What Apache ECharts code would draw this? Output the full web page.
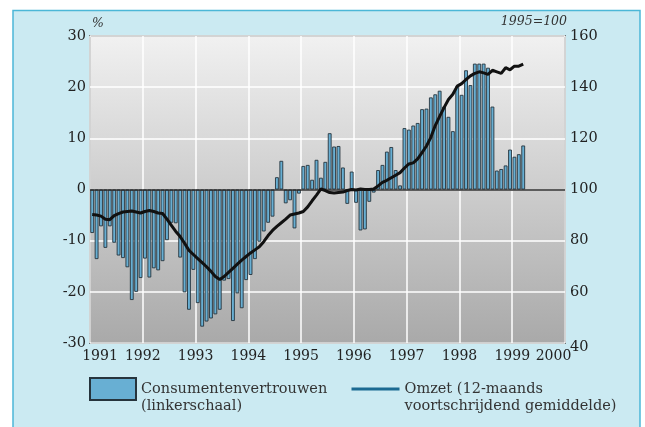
<!DOCTYPE html>
<html>
<head>
<meta charset="utf-8">
<script src="https://cdn.jsdelivr.net/npm/echarts@6/dist/echarts.min.js"></script>
<style>
  html, body { margin: 0; padding: 0; background: #fff; }
  #main { width: 645px; height: 427px; }
</style>
</head>
<body>
<div id="main"></div>
<script>
// Consumentenvertrouwen, % (linkerschaal), monthly Jan 1991 - Mar 1999
const vertrouwen = [
  -8.5, -13.6, -7.2, -11.4, -7.2, -10.4, -12.9, -13.4, -15.2, -21.6, -20, -17.3,
  -13.5, -17.2, -15.4, -15.8, -14, -9.9, -6.5, -6.6, -13.3, -20.1, -23.5, -15.7,
  -22.2, -26.8, -25.8, -25.2, -24.4, -23.5, -17.8, -17.5, -25.7, -20.3, -23.2, -17.7,
  -16.7, -13.6, -10.2, -8.2, -6.5, -5.3, 2.4, 5.6, -2.7, -2.1, -7.6, -0.8,
  4.6, 4.8, 1.9, 5.8, 2.3, 5.4, 11, 8.4, 8.5, 4.3, -2.8, 3.5,
  -2.6, -8, -7.8, -2.4, -0.6, 3.8, 4.8, 7.4, 8.3, 3.8, 0.8, 12,
  11.7, 12.5, 13, 15.7, 15.8, 18, 18.6, 19.3, 16.2, 14.2, 11.4, 20.2,
  18.5, 23.3, 20.4, 24.6, 24.6, 24.6, 23.8, 16.2, 3.7, 4, 4.7, 7.8,
  6.4, 6.9, 8.6
];

// Omzet, 12-maands voortschrijdend gemiddelde (1995=100, rechterschaal)
const omzet = [
  90.2, 90.0, 89.6, 88.4, 88.2, 89.8, 90.6, 91.2, 91.4, 91.6, 91.2, 90.8,
  91.4, 91.8, 91.4, 90.8, 90.6, 88.4, 86.0, 83.6, 81.6, 79.0, 76.2, 74.6,
  73.0, 71.4, 69.8, 68.0, 66.0, 64.8, 66.0, 67.6, 69.2, 70.8, 72.4, 73.8,
  75.2, 76.4, 77.6, 79.6, 82.0, 84.0, 85.6, 87.0, 88.4, 90.0, 90.4, 90.8,
  91.4, 93.2, 95.6, 97.8, 100.2, 99.6, 98.8, 98.6, 98.8, 99.0, 99.6, 100.0,
  99.8, 100.2, 100.0, 100.0, 100.2, 101.4, 102.8, 103.6, 104.6, 105.6, 106.6, 108.4,
  110.0, 110.4, 112.0, 114.4, 117.0, 120.4, 125.0, 128.6, 132.0, 135.2, 137.2, 140.4,
  141.4, 143.0, 144.4, 145.4, 146.0, 145.6, 145.0, 146.6, 146.0, 145.4, 147.6, 146.8,
  148.2, 148.2, 149.0
];

const startYear = 1991;
const endYear = 2000;
const barName = 'Consumentenvertrouwen\n(linkerschaal)';
const lineName = 'Omzet (12-maands\nvoortschrijdend gemiddelde)';

// month i sits in the middle of its month on a fractional-year axis
const monthPos = (i) => startYear + (i + 0.5) / 12;
const barData = vertrouwen.map((v, i) => [monthPos(i), v]);
const lineData = omzet.map((v, i) => [monthPos(i), v]);

const serif = 'DejaVu Serif';
const chart = echarts.init(document.getElementById('main'));

// blank first line so the first text line sits level with the legend icon
const legendText = {
  fontFamily: serif,
  fontSize: 14.5,
  color: '#333',
  lineHeight: 17
};

chart.setOption({
  animation: false,
  textStyle: { fontFamily: serif },
  graphic: {
    elements: [
      {
        type: 'rect',
        z: -100,
        shape: { x: 13, y: 10.5, width: 627, height: 430 },
        style: { fill: '#cbeaf2', stroke: '#4cb7d7', lineWidth: 1.5 }
      }
    ]
  },
  grid: {
    left: 90,
    right: 80,
    top: 36,
    bottom: 84,
    show: true,
    borderColor: '#222',
    borderWidth: 1.5,
    backgroundColor: new echarts.graphic.LinearGradient(0, 0, 0, 1, [
      { offset: 0, color: '#f1f1f1' },
      { offset: 1, color: '#a9a9a9' }
    ])
  },
  legend: [
    {
      data: [{ name: barName, icon: 'rect' }],
      left: 89,
      top: 363.5,
      padding: 0,
      itemWidth: 46,
      itemHeight: 22,
      itemGap: 0,
      formatter: (name) => '\n' + name,
      textStyle: legendText
    },
    {
      data: [{ name: lineName, lineStyle: { color: '#1b6a92', width: 3 }, itemStyle: { opacity: 0 } }],
      left: 350,
      top: 363.5,
      padding: 0,
      itemWidth: 48,
      itemHeight: 22,
      itemGap: 0,
      formatter: (name) => '\n' + name,
      textStyle: legendText
    }
  ],
  xAxis: {
    type: 'value',
    min: startYear,
    max: endYear,
    interval: 1,
    axisLine: { show: false },
    axisTick: { show: false },
    splitLine: { show: true, lineStyle: { color: '#fff', width: 1.5 } },
    axisLabel: {
      margin: 6,
      fontSize: 14,
      color: '#222',
      formatter: (v) => {
        if (v === startYear) return '{first|' + v + '}';
        if (v === endYear) return '{last|' + v + '}';
        return String(v);
      },
      rich: {
        first: { fontSize: 14, color: '#222', padding: [0, 0, 0, 20] },
        last: { fontSize: 14, color: '#222', padding: [0, 23, 0, 0] }
      }
    }
  },
  yAxis: [
    {
      type: 'value',
      min: -30,
      max: 30,
      interval: 10,
      name: '%',
      nameLocation: 'end',
      nameGap: 6,
      nameTextStyle: { fontStyle: 'italic', fontSize: 12.5, color: '#333', align: 'left', padding: [0, 0, 0, 2] },
      axisLine: { show: false },
      axisTick: { show: false },
      splitLine: { show: true, lineStyle: { color: '#fff', width: 1.5 } },
      axisLabel: { fontSize: 14.5, color: '#222', margin: 4 }
    },
    {
      type: 'value',
      min: 40,
      max: 160,
      interval: 20,
      name: '1995=100',
      nameLocation: 'end',
      nameGap: 6,
      nameTextStyle: { fontStyle: 'italic', fontSize: 12.5, color: '#333', align: 'right', padding: [0, -2, 0, 0] },
      axisLine: { show: false },
      axisTick: { show: false },
      splitLine: { show: false },
      axisLabel: {
        fontSize: 14.5,
        color: '#222',
        margin: 5,
        formatter: (v) => (v === 40 ? '{low|40}' : String(v)),
        rich: { low: { fontSize: 14.5, color: '#222', padding: [9, 0, 0, 0] } }
      }
    }
  ],
  series: [
    {
      name: barName,
      type: 'bar',
      yAxisIndex: 0,
      barWidth: 3.8,
      data: barData,
      itemStyle: { color: '#68afd3', borderColor: '#26343d', borderWidth: 0.9 },
      markLine: {
        silent: true,
        symbol: 'none',
        label: { show: false },
        lineStyle: { color: '#2a2a2a', width: 1.5, type: 'solid' },
        data: [{ yAxis: 0 }]
      }
    },
    {
      name: lineName,
      type: 'line',
      yAxisIndex: 1,
      data: lineData,
      symbol: 'none',
      showSymbol: false,
      lineStyle: { color: '#111', width: 3 },
      itemStyle: { color: '#111' },
      z: 5
    }
  ]
});
</script>
</body>
</html>
